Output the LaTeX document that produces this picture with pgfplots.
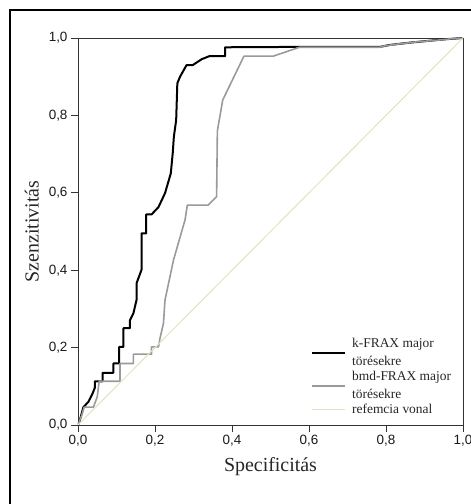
\documentclass[border=0pt]{standalone}
\usepackage{fontspec}
\setmainfont{Liberation Serif}
\setsansfont{Liberation Sans}
\usepackage{pgfplots}
\pgfplotsset{compat=1.18}
\definecolor{refc}{HTML}{E4E0C4}
\definecolor{grayc}{HTML}{9A9A9A}
\definecolor{axc}{HTML}{333333}

\begin{document}
\begin{tikzpicture}
\useasboundingbox (-78bp,-79bp) rectangle (393bp,425bp);
\draw[line width=2bp,black] (-68bp,-100bp) -- (-68bp,415bp) -- (410bp,415bp);
\begin{axis}[
  width=385bp, height=387bp, scale only axis,
  xmin=0, xmax=1, ymin=0, ymax=1,
  xtick={0,0.2,0.4,0.6,0.8,1.0},
  ytick={0,0.2,0.4,0.6,0.8,1.0},
  /pgf/number format/.cd, use comma, fixed, fixed zerofill, precision=1, assume math mode=true,
  /pgfplots/.cd,
  tick label style={font=\sffamily\fontsize{13.5}{15}\selectfont, text=black!90},
  tick align=outside, tick pos=left,
  major tick length=7bp,
  every tick/.style={axc, line width=0.8bp},
  axis line style={axc, line width=0.8bp},
  xlabel={Specificitás}, ylabel={Szenzitivitás},
  label style={font=\fontsize{20}{24}\selectfont, text=black!85},
  x label style={at={(axis description cs:0.5,-0.108)}, anchor=center},
  y label style={at={(axis description cs:-0.12,0.5)}, anchor=center},
  legend style={at={(axis description cs:0.605,0.02)}, anchor=south west,
    draw=none, fill=none, font=\fontsize{13.5}{18}\selectfont, text=black!85,
    cells={align=left}, row sep=0pt, inner sep=0pt},
  legend cell align=left,
  legend image code/.code={\draw[#1] (0bp,0bp) -- (33bp,0bp); \path (37bp,0bp);},
]
\addplot[black, line width=2bp, line join=round] coordinates {
(0,0) (0.005,0.013) (0.014,0.046) (0.027,0.060) (0.038,0.082) (0.044,0.097)
(0.044,0.113) (0.064,0.113) (0.064,0.135) (0.092,0.135) (0.092,0.159)
(0.107,0.159) (0.107,0.202) (0.118,0.202) (0.118,0.250) (0.135,0.250)
(0.135,0.271) (0.144,0.289) (0.152,0.323) (0.152,0.366) (0.165,0.401)
(0.165,0.495) (0.177,0.495) (0.177,0.544) (0.191,0.544) (0.209,0.563)
(0.226,0.599) (0.241,0.650) (0.246,0.702) (0.249,0.745) (0.255,0.788)
(0.258,0.883) (0.265,0.900) (0.282,0.930) (0.298,0.930) (0.321,0.945)
(0.341,0.953) (0.382,0.953) (0.382,0.976) (0.572,0.977) (0.784,0.977)
(0.810,0.982) (0.862,0.988) (0.914,0.993) (0.958,0.997) (1,1)
};
\addlegendentry{k-FRAX major\\törésekre}
\addplot[grayc, line width=1.6bp, line join=round] coordinates {
(0,0) (0.010,0.026) (0.016,0.046) (0.040,0.046) (0.050,0.073) (0.055,0.113)
(0.109,0.113) (0.109,0.159) (0.144,0.159) (0.144,0.183) (0.191,0.183)
(0.191,0.202) (0.209,0.202) (0.213,0.224) (0.222,0.263) (0.226,0.323)
(0.248,0.426) (0.278,0.530) (0.284,0.568) (0.338,0.568) (0.360,0.590)
(0.362,0.760) (0.376,0.840) (0.431,0.953) (0.507,0.953) (0.575,0.976)
(0.784,0.976) (0.793,0.979) (0.828,0.984) (0.880,0.990) (0.940,0.995)
(0.958,0.997) (1,1)
};
\addlegendentry{bmd-FRAX major\\törésekre}
\addplot[refc, line width=1bp] coordinates {(0,0) (1,1)};
\addlegendentry{refemcia vonal}
\end{axis}
\end{tikzpicture}
\end{document}
